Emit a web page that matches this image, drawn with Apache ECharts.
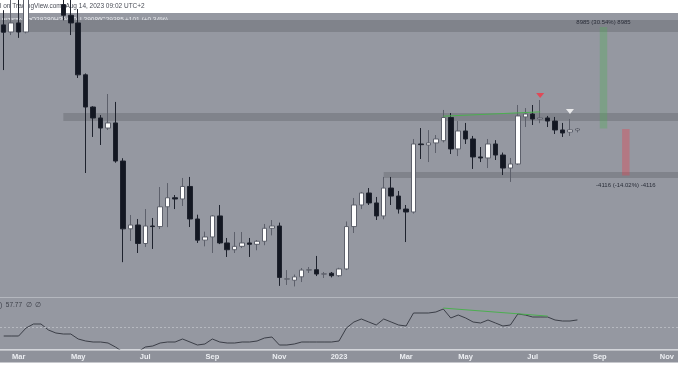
<!DOCTYPE html>
<html><head><meta charset="utf-8">
<script src="https://cdn.jsdelivr.net/npm/echarts@6/dist/echarts.min.js"></script>
<style>html,body{margin:0;padding:0;background:#fff}#c{width:678px;height:381px}</style>
</head><body><div id="c"></div>
<script>
// weekly categories (Monday of each week), incl. empty future weeks
const weeks = [
'2022-02-21','2022-02-28','2022-03-07','2022-03-14','2022-03-21','2022-03-28','2022-04-04','2022-04-11','2022-04-18','2022-04-25',
'2022-05-02','2022-05-09','2022-05-16','2022-05-23','2022-05-30','2022-06-06','2022-06-13','2022-06-20','2022-06-27','2022-07-04',
'2022-07-11','2022-07-18','2022-07-25','2022-08-01','2022-08-08','2022-08-15','2022-08-22','2022-08-29','2022-09-05','2022-09-12',
'2022-09-19','2022-09-26','2022-10-03','2022-10-10','2022-10-17','2022-10-24','2022-10-31','2022-11-07','2022-11-14','2022-11-21',
'2022-11-28','2022-12-05','2022-12-12','2022-12-19','2022-12-26','2023-01-02','2023-01-09','2023-01-16','2023-01-23','2023-01-30',
'2023-02-06','2023-02-13','2023-02-20','2023-02-27','2023-03-06','2023-03-13','2023-03-20','2023-03-27','2023-04-03','2023-04-10',
'2023-04-17','2023-04-24','2023-05-01','2023-05-08','2023-05-15','2023-05-22','2023-05-29','2023-06-05','2023-06-12','2023-06-19',
'2023-06-26','2023-07-03','2023-07-10','2023-07-17','2023-07-24','2023-07-31','2023-08-07','2023-08-14','2023-08-21','2023-08-28',
'2023-09-04','2023-09-11','2023-09-18','2023-09-25','2023-10-02','2023-10-09','2023-10-16','2023-10-23','2023-10-30','2023-11-06',
'2023-11-13'];
const tickLabels = {'2022-03-07':'Mar','2022-05-02':'May','2022-07-04':'Jul','2022-09-05':'Sep','2022-11-07':'Nov',
  '2023-01-02':'2023','2023-03-06':'Mar','2023-05-01':'May','2023-07-03':'Jul','2023-09-04':'Sep','2023-11-06':'Nov'};

const openP = [38600,37970,38770,37970,41300,44500,46400,42150,40400,39450,
38770,34180,31330,30360,29470,29920,26550,20550,20890,19250,
20800,20750,22500,23300,23190,24300,21420,19550,19830,21690,
19300,18700,19000,19300,19180,19450,20600,20800,16100,16000,
16300,16900,16930,16550,16620,16400,17000,20750,22660,23720,
22840,21690,24160,23450,22300,22040,28060,27970,28150,28350,
30400,27620,29210,28500,26910,26820,28060,27080,25930,26290,
30450,30710,30270,30360,30090,29300,29120,29280];
const highP = [39900,45400,42600,42300,45000,48200,47400,42400,42900,40800,
40000,34300,31400,30620,32480,31780,26800,21775,21420,22300,
21510,24250,24600,23540,25050,25140,21800,20300,21775,22660,
19740,20270,20270,19740,19560,20980,21330,21100,16900,16500,
17080,17170,18150,16730,16730,17100,21200,23280,23810,24160,
23370,25140,25140,23900,22660,28500,29470,29290,28850,31070,
30800,30090,29920,28770,27790,28500,28400,27300,26820,31510,
31240,31510,31950,30540,30450,29920,30270,29470];
const lowP = [34600,37700,37450,37850,40500,44200,42100,39700,39000,37700,
33900,25490,28680,27970,29300,26400,17600,19470,18410,18940,
18770,20530,20700,22300,22570,20710,19300,19000,18410,19200,
18060,18410,18850,18060,18650,19100,19970,15500,15580,15450,
15840,16640,16370,16200,16250,16300,16900,20180,22300,22660,
21330,21400,22660,21900,19380,21900,26730,26460,27260,28200,
27170,26990,28060,25850,26460,25930,26640,25310,24700,26200,
29560,29740,29900,29560,28940,28680,28770,29086];
const closeP = [37950,38770,37970,41300,44500,46400,42150,40400,39450,38770,
34180,31330,30360,29470,29920,26550,20550,20890,19250,20800,
20750,22500,23300,23190,24300,21420,19550,19830,21690,19300,
18700,19000,19300,19180,19450,20600,20800,16250,16130,16300,
16900,16930,16550,16560,16400,17000,20750,22660,23720,22840,
21690,24160,23450,22300,22040,28060,28000,28150,28500,30400,
27620,29210,28500,26910,26820,28060,27080,25930,26290,30540,
30710,30270,30360,30090,29300,29030,29300,29385];
const rsi = [40.1,40.1,40.1,48.9,53.3,53.3,46.7,43.4,42.3,42.3,
36.8,34.6,33.5,33.5,32.4,28.0,22.5,23.6,22.5,28.0,
29.1,32.4,33.5,33.5,36.8,33.5,30.2,31.3,36.8,33.5,
32.4,32.4,33.5,33.5,34.6,37.9,39.0,30.2,30.2,31.3,
33.5,33.5,33.5,33.5,33.5,34.6,48.9,55.5,58.8,55.5,
52.2,58.8,55.5,52.2,51.1,65.4,65.4,65.4,66.5,69.8,
59.9,63.2,59.9,55.5,54.4,57.7,54.4,51.1,52.2,64.3,
63.2,61.0,61.0,61.0,57.7,56.6,56.6,57.77];

// horizontal zones [top, bottom, startWeek]
const zoneTop = [39030, 37970, null];
const zoneMid = [30800, 30093, '2022-04-18'];
const zoneLow = [25580, 25048, '2022-12-12' === '' ? null : '2023-02-13'];
// measure tool
const longMeasure = {from: 29420, to: 38405, w0: '2023-09-04', w1: '2023-09-11', label: '8985 (30.54%) 8985'};
const shortMeasure = {from: 29385, to: 25269, w0: '2023-09-25', w1: '2023-10-02', label: '-4116 (-14.02%) -4116'};
// divergence lines
const priceDiv = [['2023-04-10', 30520], ['2023-07-10', 30900]];
const rsiDiv = [['2023-04-10', 70.8], ['2023-07-17', 62.0]];
const signals = [{w: '2023-07-10', p: 32350, c: '#f23645'}, {w: '2023-08-07', p: 30934, c: '#ffffff'}];

const candles = openP.map((o, i) => [o, closeP[i], lowP[i], highP[i]]);

const BG = '#9598a1', BAND = '#80838b';
const chart = echarts.init(document.getElementById('c'), null, {renderer: 'canvas'});
const FONT = 'Liberation Sans';

chart.setOption({
  animation: false,
  backgroundColor: '#ffffff',
  textStyle: {fontFamily: FONT},
  grid: [
    {left: -2.54, width: 680.7, top: 13, height: 283},
    {left: -2.54, width: 680.7, top: 298, height: 51}
  ],
  xAxis: [
    {type: 'category', data: weeks, gridIndex: 0, show: false},
    {type: 'category', data: weeks, gridIndex: 1,
     axisLine: {show: false}, axisTick: {show: false}, splitLine: {show: false},
     axisLabel: {interval: 0, margin: 4, fontSize: 7.5, fontWeight: 'bold', color: '#eceef2',
       formatter: v => tickLabels[v] || ''}}
  ],
  yAxis: [
    {type: 'value', gridIndex: 0, min: 14605, max: 39651, show: false},
    {type: 'value', gridIndex: 1, min: 25.8, max: 81.9, show: false}
  ],
  graphic: {elements: [
    {type: 'rect', z: -10, shape: {x: 0, y: 13, width: 678, height: 284}, style: {fill: BG}},
    {type: 'rect', z: -10, shape: {x: 0, y: 297, width: 678, height: 1}, style: {fill: '#b4b7be'}},
    {type: 'rect', z: -10, shape: {x: 0, y: 298, width: 678, height: 52}, style: {fill: BG}},
    {type: 'rect', z: -10, shape: {x: 0, y: 349, width: 678, height: 1.5}, style: {fill: '#d3d5da'}},
    {type: 'rect', z: -10, shape: {x: 0, y: 350.5, width: 678, height: 12}, style: {fill: '#8f929b'}},
    {type: 'text', z: 1, left: 0, top: 3, style: {text: 'l on TradingView.com, Aug 14, 2023 09:02 UTC+2', fontSize: 6.5, fontFamily: FONT, fill: '#4a4d57'}},
    {type: 'text', z: 1, left: 2, top: 17, style: {text: 'BITSTAMP', fontSize: 6, fontFamily: FONT, fill: '#e6e8ec'}},
    {type: 'text', z: 1, left: 31, top: 17, style: {text: 'O29280', fontSize: 6.5, fontFamily: FONT, fill: '#e6e8ec'}},
    {type: 'text', z: 1, left: 54, top: 17, style: {text: 'H29470', fontSize: 6.5, fontFamily: FONT, fill: '#e6e8ec'}},
    {type: 'text', z: 1, left: 80, top: 17, style: {text: 'L29086', fontSize: 6.5, fontFamily: FONT, fill: '#e6e8ec'}},
    {type: 'text', z: 1, left: 101, top: 17, style: {text: 'C29385', fontSize: 6.5, fontFamily: FONT, fill: '#e6e8ec'}},
    {type: 'text', z: 1, left: 125, top: 17, style: {text: '+101 (+0.34%)', fontSize: 6.5, fontFamily: FONT, fill: '#e6e8ec'}},
    {type: 'text', z: 1, left: 0, top: 302, style: {text: ')  57.77  ∅  ∅', fontSize: 6.5, fontFamily: FONT, fill: '#3d4049'}}
  ]},
  series: [
    {
      type: 'candlestick', xAxisIndex: 0, yAxisIndex: 0, data: candles, barWidth: 5, z: 3,
      itemStyle: {color: '#ffffff', color0: '#131722', borderColor: '#5d606b', borderColor0: '#1e222d', borderWidth: 1},
      markArea: {silent: true, z: 1, itemStyle: {color: BAND}, data: [
        [{yAxis: zoneTop[0]}, {yAxis: zoneTop[1]}],
        [{xAxis: zoneMid[2], yAxis: zoneMid[0]}, {yAxis: zoneMid[1]}],
        [{xAxis: zoneLow[2], yAxis: zoneLow[0]}, {yAxis: zoneLow[1]}],
        [{xAxis: longMeasure.w0, yAxis: longMeasure.to, itemStyle: {color: 'rgba(76,175,80,0.32)'},
          label: {show: true, position: 'top', distance: 2, formatter: longMeasure.label, fontSize: 6, color: '#2a2e39', fontFamily: FONT}},
         {xAxis: longMeasure.w1, yAxis: longMeasure.from}],
        [{xAxis: shortMeasure.w0, yAxis: shortMeasure.from, itemStyle: {color: 'rgba(242,54,69,0.32)'},
          label: {show: true, position: 'bottom', distance: 7, formatter: shortMeasure.label, fontSize: 6, color: '#2a2e39', fontFamily: FONT}},
         {xAxis: shortMeasure.w1, yAxis: shortMeasure.to}]
      ]},
      markLine: {silent: true, symbol: 'none', label: {show: false}, lineStyle: {color: '#4caf50', width: 1, type: 'solid'},
        data: [[{coord: priceDiv[0]}, {coord: priceDiv[1]}]]}
    },
    {
      type: 'scatter', xAxisIndex: 0, yAxisIndex: 0, z: 4, symbol: 'triangle', symbolRotate: 180, symbolSize: [8, 5],
      data: signals.map(s => ({value: [s.w, s.p], itemStyle: {color: s.c}}))
    },
    {
      type: 'line', xAxisIndex: 1, yAxisIndex: 1, data: rsi, symbol: 'none', z: 3,
      lineStyle: {color: '#3b3e47', width: 1},
      markLine: {silent: true, symbol: 'none', label: {show: false}, data: [
        {yAxis: 50, lineStyle: {color: '#b6b9c0', type: [2, 2], width: 1}},
        [{coord: rsiDiv[0], lineStyle: {color: '#4caf50', type: 'solid', width: 1}}, {coord: rsiDiv[1]}]
      ]}
    }
  ]
});
</script>
</body></html>
